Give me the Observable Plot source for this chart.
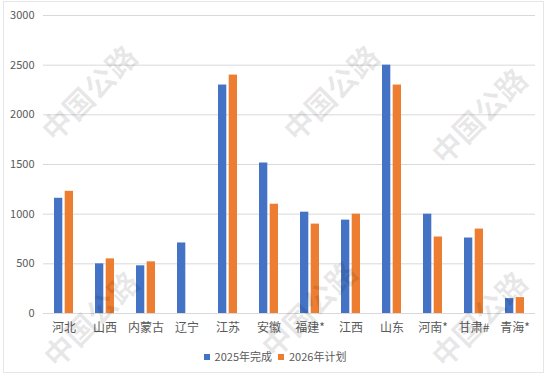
<!DOCTYPE html>
<html><head><meta charset="utf-8">
<script src="https://cdn.jsdelivr.net/npm/d3@7"></script>
<script src="https://cdn.jsdelivr.net/npm/@observablehq/plot@0.6"></script>
<style>
body{margin:0;background:#fff;font-family:"Noto Sans CJK SC","Noto Sans",sans-serif;}
#wrap{position:relative;width:550px;height:377px;overflow:hidden;background:#fff;}
#frame{position:absolute;left:3px;top:1px;width:541px;height:372px;border:1px solid #e6e6e6;box-sizing:border-box;pointer-events:none;}
#chart{position:absolute;left:0;top:0;}
#legend{position:absolute;left:0;top:348px;width:550px;text-align:center;font-size:11px;color:#595959;}
#legend span.sw{display:inline-block;width:6px;height:6px;margin-right:5px;vertical-align:1px;}
#legend span.it{margin:0 3px;}
.wm{position:absolute;font-size:30px;font-weight:bold;color:rgba(0,0,0,0.09);transform:translate(-50%,-50%) rotate(-45deg);white-space:nowrap;pointer-events:none;}
</style></head>
<body>
<div id="wrap">
<div id="frame"></div>
<div id="chart"></div>
<div id="legend"></div>
</div>
<script>
const categories = ["河北","山西","内蒙古","辽宁","江苏","安徽","福建*","江西","山东","河南*","甘肃#","青海*"];
const series = ["2025年完成","2026年计划"];
const values2025 = [1160, 500, 480, 710, 2300, 1515, 1020, 940, 2500, 1000, 760, 150];
const values2026 = [1230, 550, 520, null, 2400, 1100, 900, 1000, 2300, 770, 850, 160];
const yTicks = [0, 500, 1000, 1500, 2000, 2500, 3000];
const colors = ["#4472C4", "#ED7D31"];
const watermarkText = "中国公路";

const d25 = categories.map((c, i) => ({cat: c, series: series[0], value: values2025[i]})).filter(d => d.value != null);
const d26 = categories.map((c, i) => ({cat: c, series: series[1], value: values2026[i]})).filter(d => d.value != null);

const chart = Plot.plot({
  width: 550,
  height: 345,
  marginTop: 15,
  marginBottom: 32,
  marginLeft: 43,
  marginRight: 15,
  style: {fontFamily: '"Noto Sans CJK SC","Noto Sans",sans-serif', background: "transparent"},
  x: {domain: categories, paddingInner: 0.54, paddingOuter: 0.27, label: null},
  y: {domain: [0, 3000], ticks: yTicks, label: null},
  color: {domain: series, range: colors},
  marks: [
    Plot.ruleY(yTicks, {stroke: "#d9d9d9", strokeWidth: 1}),
    Plot.barY(d25, {x: "cat", y: "value", fill: "series", insetRight: 10.7}),
    Plot.barY(d26, {x: "cat", y: "value", fill: "series", insetLeft: 10.7}),
    Plot.axisY({ticks: yTicks, tickFormat: d => String(d), tickSize: 0, tickPadding: 9, fontSize: 11, fill: "#595959", label: null}),
    Plot.axisX({tickSize: 0, tickPadding: 10, fontSize: 12, fill: "#595959", label: null})
  ]
});
document.getElementById("chart").appendChild(chart);

const legend = document.getElementById("legend");
series.forEach((s, i) => {
  const it = document.createElement("span");
  it.className = "it";
  it.innerHTML = `<span class="sw" style="background:${colors[i]}"></span>${s}`;
  legend.appendChild(it);
});

const wmPos = [[88, 92], [330, 92], [478, 115], [90, 318], [308, 308], [478, 318]];
const wrap = document.getElementById("wrap");
wmPos.forEach(([x, y]) => {
  const d = document.createElement("div");
  d.className = "wm";
  d.style.left = x + "px";
  d.style.top = y + "px";
  d.textContent = watermarkText;
  wrap.appendChild(d);
});
</script>
</body></html>
